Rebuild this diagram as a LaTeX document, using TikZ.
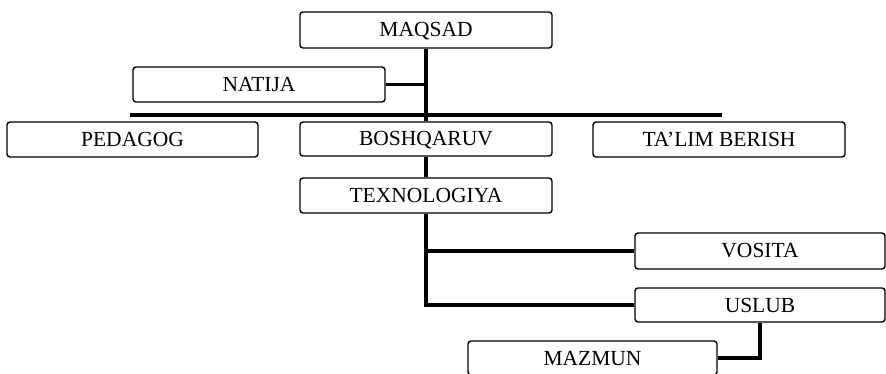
\documentclass[tikz,border=0pt]{standalone}
\usepackage{fontspec}
\setmainfont{Liberation Serif}
\begin{document}
\begin{tikzpicture}[x=1pt,y=-1pt,
  box/.style={draw=black,line width=1.4pt,rounded corners=3pt,rectangle,inner sep=0pt,
    font=\fontsize{21.5}{23}\selectfont,text=black,text height=14pt,text depth=0pt},
  conn/.style={draw=black,line width=3.5pt}]
\useasboundingbox[fill=white] (0,0) rectangle (886,374);
\node[box,minimum width=252pt,minimum height=36pt] (maqsad) at (426,30) {MAQSAD};
\node[box,minimum width=252pt,minimum height=35pt] (natija) at (259,84.5) {NATIJA};
\node[box,minimum width=251pt,minimum height=35pt] (pedagog) at (132.5,139.5) {PEDAGOG};
\node[box,minimum width=252pt,minimum height=34pt] (boshq) at (426,139) {BOSHQARUV};
\node[box,minimum width=252pt,minimum height=35pt] (talim) at (719,139.5) {TA'LIM BERISH};
\node[box,minimum width=252pt,minimum height=35pt] (texno) at (426,195.5) {TEXNOLOGIYA};
\node[box,minimum width=250pt,minimum height=36pt] (vosita) at (760,251) {VOSITA};
\node[box,minimum width=250pt,minimum height=34pt] (uslub) at (760,305) {USLUB};
\node[box,minimum width=249pt,minimum height=34pt] (mazmun) at (592.5,358) {MAZMUN};
\coordinate (barL) at (130,115);
\coordinate (barR) at (722,115);
\draw[conn] (maqsad.south) -- (boshq.north);
\draw[conn] (natija.east) -- (natija.east -| maqsad.south);
\draw[conn] (barL) -- (barR);
\draw[conn] (boshq.south) -- (texno.north);
\draw[conn] (texno.south) -- (texno.south |- uslub.west) -- (uslub.west);
\draw[conn] (texno.south |- vosita.west) -- (vosita.west);
\draw[conn] (uslub.south) -- (uslub.south |- mazmun.east) -- (mazmun.east);
\end{tikzpicture}
\end{document}
